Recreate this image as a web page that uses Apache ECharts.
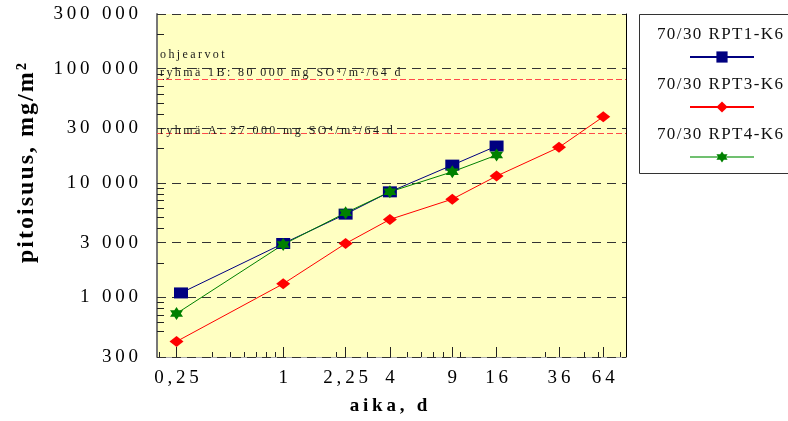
<!DOCTYPE html>
<html><head><meta charset="utf-8">
<script src="https://cdn.jsdelivr.net/npm/echarts@6/dist/echarts.min.js"></script>
<style>html,body{margin:0;padding:0;background:#fff}#c{width:788px;height:421px}</style>
</head><body><div id="c"></div>
<script>
// ---- data ----
const days = [0.25, 1, 2.25, 4, 9, 16, 36, 64];
const rpt1Days = [0.265, 1, 2.25, 4, 9, 16];
const rpt1 = [1090, 2950, 5330, 8350, 14300, 21000];
const rpt3 = [410, 1310, 2950, 4790, 7210, 11470, 20450, 37900];
const rpt4 = [720, 2890, 5470, 8350, 12500, 17500];
const seriesNames = ['70/30 RPT1-K6', '70/30 RPT3-K6', '70/30 RPT4-K6'];
const xTickLabels = [0.25, 1, 2.25, 4, 9, 16, 36, 64];
const xMinorTicks = [0.2, 0.4, 0.5, 0.6, 0.7, 0.8, 0.9, 2, 3, 5, 6, 7, 8, 10, 30, 50, 60, 80];
const yTickLabels = [300, 1000, 3000, 10000, 30000, 100000, 300000];
const yMinorTicks = [500, 600, 700, 800, 900, 2000, 4000, 5000, 6000, 7000, 8000, 9000, 20000, 40000, 50000, 60000, 70000, 80000, 90000, 200000];
const refValues = [80000, 27000];
const refLabels = ['ohjearvot\nryhmä 1B: 80 000 mg SO⁴/m²/64 d', 'ryhmä A: 27 000 mg SO⁴/m²/64 d'];
const xTitle = 'aika, d';
const yTitle = 'pitoisuus, mg/m²';

// ---- helpers ----
const FONT = '"Liberation Serif", "Times New Roman", serif';
const THIN = '\u2009', HAIR = '\u200A';
function spaced(s, sp) { return s.split('\n').map(l => Array.from(l).join(sp)).join('\n'); }
function fmtY(v) { return spaced(String(Math.round(v)).replace(/\B(?=(\d{3})+(?!\d))/g, ' '), THIN); }
function fmtX(v) { return spaced(String(+v.toPrecision(6)).replace('.', ','), THIN); }
function pairs(xs, vals) { return vals.map((v, i) => [xs[i], v]); }

const star6 = 'path://M0,-10L2.887,-5L8.66,-5L5.774,0L8.66,5L2.887,5L0,10L-2.887,5L-8.66,5L-5.774,0L-8.66,-5L-2.887,-5Z';
const colors = ['#000080', '#ff0000', '#008000'];
const XMIN = 0.194, XMAX = 86;

const chart = echarts.init(document.getElementById('c'), null, {renderer: 'canvas'});
chart.setOption({
  animation: false,
  grid: {left: 157, right: 162, top: 14, bottom: 64, show: true, backgroundColor: '#ffffc2', borderWidth: 0, outerBoundsMode: 'none'},
  xAxis: [{
    type: 'log', logBase: 10, min: XMIN, max: XMAX, position: 'bottom',
    name: spaced(xTitle, THIN), nameLocation: 'middle', nameGap: 40,
    nameTextStyle: {fontFamily: FONT, fontSize: 19, fontWeight: 'bold', color: '#000', padding: [0, 6, 0, 0]},
    axisLine: {show: true, lineStyle: {color: '#aaa', width: 1}},
    axisTick: {show: true, inside: true, length: 10, customValues: xTickLabels, lineStyle: {color: '#222'}},
    axisLabel: {customValues: xTickLabels, formatter: fmtX, fontFamily: FONT, fontSize: 19, color: '#000', margin: 12},
    splitLine: {show: false}, minorTick: {show: false}
  }, {
    type: 'log', logBase: 10, min: XMIN, max: XMAX, position: 'bottom',
    axisLine: {show: false},
    axisTick: {show: true, inside: true, length: 5, customValues: xMinorTicks, lineStyle: {color: '#222'}},
    axisLabel: {show: false}, splitLine: {show: false}
  }],
  yAxis: [{
    type: 'log', logBase: 10, min: 300, max: 300000, position: 'left',
    name: spaced(yTitle, HAIR), nameLocation: 'middle', nameGap: 118,
    nameTextStyle: {fontFamily: FONT, fontSize: 24, fontWeight: 'bold', color: '#000', padding: [0, 0, 0, 45]},
    axisLine: {show: true, lineStyle: {color: '#777', width: 2}},
    axisTick: {show: true, inside: true, length: 7, customValues: yMinorTicks.concat(yTickLabels), lineStyle: {color: '#222'}},
    axisLabel: {customValues: yTickLabels, formatter: fmtY, fontFamily: FONT, fontSize: 19, color: '#000', margin: 19},
    splitLine: {show: false}, minorTick: {show: false}
  }, {
    type: 'log', logBase: 10, min: 300, max: 300000, position: 'right',
    axisLine: {show: true, lineStyle: {color: '#000', width: 1}},
    axisTick: {show: false}, axisLabel: {show: false}, splitLine: {show: false}
  }],
  legend: {
    orient: 'vertical', left: 689, top: 50, padding: 0,
    itemWidth: 64, itemHeight: 14, itemGap: 36, selectedMode: false,
    formatter: () => ' ', textStyle: {fontSize: 10, lineHeight: 14},
    data: [{name: seriesNames[0]}, {name: seriesNames[1]}, {name: seriesNames[2], lineStyle: {color: '#70c070'}}]
  },
  graphic: [
    {type: 'rect', silent: true, z: -1, shape: {x: 639.5, y: 14.5, width: 170, height: 159}, style: {fill: 'none', stroke: '#333', lineWidth: 1}}
  ].concat(seriesNames.map((n, i) => ({
    type: 'text', silent: true, x: 720, y: 35 + i * 50,
    style: {text: spaced(n, HAIR), font: '17px ' + FONT, fill: '#111', align: 'center', verticalAlign: 'middle'}
  }))),
  series: [{
    name: seriesNames[0], type: 'line', data: pairs(rpt1Days, rpt1),
    symbol: 'rect', symbolSize: [14, 11], color: colors[0],
    lineStyle: {color: colors[0], width: 1}, itemStyle: {color: colors[0]},
    markLine: {
      silent: true, symbol: 'none', animation: false, z: 1,
      data: yTickLabels.map(v => ({yAxis: v, lineStyle: {color: '#333', type: [9, 6], width: 1}, label: {show: false}}))
        .concat(refValues.map((v, i) => ({
          yAxis: v, lineStyle: {color: '#ff4a4a', type: [6, 3], width: 1},
          label: {show: true, position: 'insideStartTop', distance: [3, i === 0 ? -2 : -6],
                  formatter: spaced(refLabels[i], THIN), fontFamily: FONT, fontSize: 12, lineHeight: 18, color: '#1a1a1a'}
        })))
    }
  }, {
    name: seriesNames[1], type: 'line', data: pairs(days, rpt3),
    symbol: 'diamond', symbolSize: [14, 11], color: colors[1],
    lineStyle: {color: colors[1], width: 1}, itemStyle: {color: colors[1]}
  }, {
    name: seriesNames[2], type: 'line', data: pairs(days, rpt4),
    symbol: star6, symbolSize: 13, color: colors[2],
    lineStyle: {color: colors[2], width: 1}, itemStyle: {color: colors[2]}
  }]
});
</script></body></html>
